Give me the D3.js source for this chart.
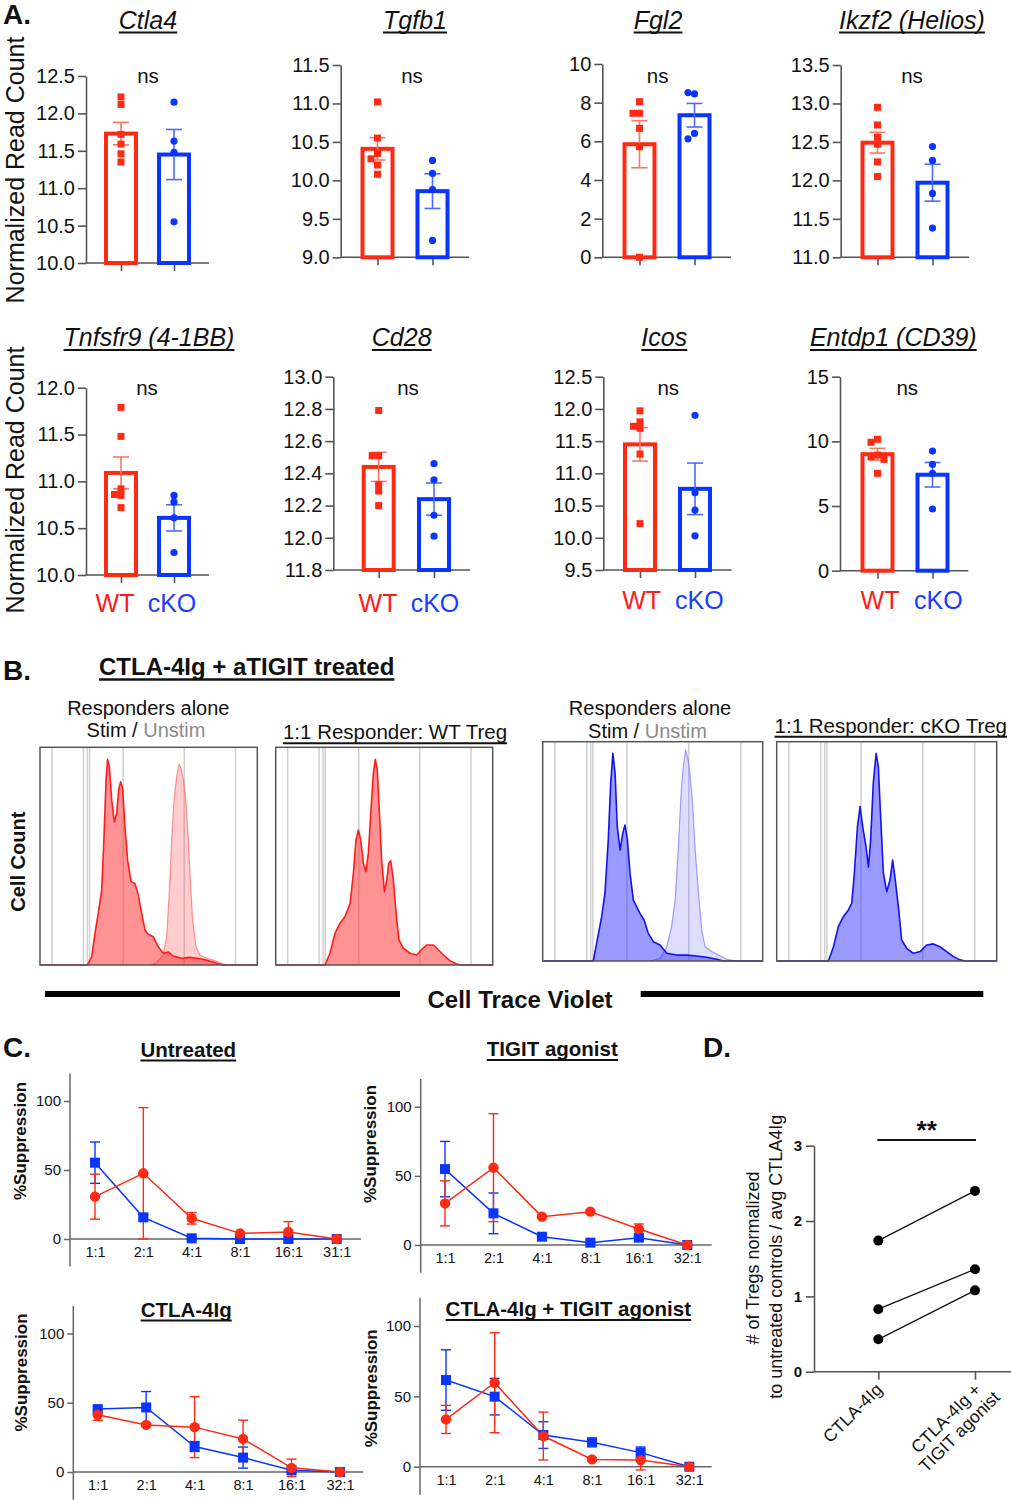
<!DOCTYPE html>
<html><head><meta charset="utf-8">
<script src="https://cdn.jsdelivr.net/npm/d3@7"></script>
<style>
body{margin:0;background:#fff}
svg{display:block}
text{font-family:"Liberation Sans",Arial,Helvetica,sans-serif}
</style></head>
<body><svg id="fig" width="1011" height="1500"></svg>
<script>
// ================= DATA =================
// Panel A
const genes = ["Ctla4","Tgfb1","Fgl2","Ikzf2 (Helios)","Tnfsfr9 (4-1BB)","Cd28","Icos","Entdp1 (CD39)"];
const groups = ["WT","cKO"];
const wtMean = [11.73, 10.41, 5.85, 12.49, 11.09, 12.44, 11.45, 9.01];
const wtSem  = [0.15, 0.145, 1.22, 0.135, 0.17, 0.09, 0.26, 0.45];
const koMean = [11.45, 9.86, 7.35, 11.97, 10.61, 12.24, 10.76, 7.42];
const koSem  = [0.335, 0.225, 0.61, 0.24, 0.14, 0.10, 0.40, 0.95];
const wtPoints = [
  [12.22,12.12,11.72,11.59,11.46,11.35],
  [11.02,10.55,10.35,10.28,10.20,10.08],
  [8.05,7.45,7.45,6.67,5.72,0.0],
  [12.95,12.72,12.56,12.47,12.24,12.05],
  [11.79,11.48,10.92,10.86,10.85,10.72],
  [12.79,12.51,12.51,12.33,12.29,12.20],
  [11.97,11.80,11.73,11.70,11.30,10.22],
  [10.16,9.93,8.94,8.81,8.61,7.53]];
const koPoints = [
  [12.15,11.63,11.48,10.55],
  [10.26,10.09,9.88,9.22],
  [8.45,8.52,6.41,6.13],
  [12.44,12.26,11.83,11.38],
  [10.85,10.78,10.61,10.24],
  [12.46,12.36,12.14,12.01],
  [11.90,10.70,10.43,10.03],
  [9.25,8.22,7.53,4.77]];
const aYDomain = [[10,12.5],[9,11.5],[0,10],[11,13.5],[10,12],[11.8,13],[9.5,12.5],[0,15]];
const aYStep = [0.5,0.5,2,0.5,0.5,0.2,0.5,5];
const aYDecimals = [1,1,0,1,1,1,1,0];
const aSig = ["ns","ns","ns","ns","ns","ns","ns","ns"];

// Panel B histograms: [CTV position (0-100 of axis), cell count (% of max scale)]
const histGridX = [5.5, 20.0, 21.8, 22.8, 38.3, 66.4, 90.0];
const wtStim = [[0,0],[21.8,0],[23.8,3.8],[25.3,14.5],[26.8,23.7],[28.4,34.5],[29.4,57.4],[30.4,85],[31.1,94.5],[31.9,91.1],[33.0,75.8],[34.2,65.8],[35.3,69.7],[36.2,80.4],[37.1,84.2],[38.0,81.2],[39.1,63.6],[40.3,48.2],[41.9,38.3],[43.7,37.5],[45.2,32.2],[46.8,23.7],[48.3,16.1],[49.8,14.2],[52.1,13.0],[54.4,8.4],[56.7,5.4],[59.0,6.0],[61.3,4.1],[65.2,3.1],[69.0,3.5],[73.6,2.9],[77.5,2.0],[81.3,0.8],[84.4,0],[100,0]];
const wtUnstim = [[50.6,0],[53.7,1.1],[56.7,4.6],[58.3,13.0],[59.5,32.9],[60.6,57.4],[61.7,75.8],[62.9,86.5],[64.0,92.3],[64.9,90.4],[66.0,85.0],[67.0,77.3],[67.9,63.6],[69.0,42.1],[70.2,20.7],[71.8,8.4],[73.6,4.6],[76.7,3.1],[80.5,2.0],[83.6,0.8],[85.9,0]];
const wtTreg = [[0,0],[22.7,0],[25.0,5.4],[27.3,14.5],[29.6,19.1],[31.9,22.2],[34.3,28.3],[35.8,42.1],[37.0,57.4],[38.1,62.0],[39.2,57.4],[40.4,46.7],[41.5,42.9],[42.7,51.3],[43.8,69.7],[45.0,88.1],[45.9,94.5],[46.8,89.6],[47.8,69.7],[48.8,48.2],[50.1,33.7],[51.2,39.1],[52.1,46.7],[53.0,47.9],[54.2,39.1],[55.5,23.7],[56.8,11.5],[58.8,7.7],[61.9,5.4],[65.0,4.6],[67.3,7.2],[69.6,9.2],[72.7,9.2],[75.0,6.9],[77.3,4.6],[80.3,2.0],[83.4,0.5],[85.7,0],[100,0]];
const koStim = [[0,0],[23.0,0],[24.8,9.6],[26.8,20.2],[28.3,30.9],[29.8,55.2],[30.9,81.0],[31.9,94.7],[32.9,85.6],[33.9,61.2],[35.2,50.6],[36.4,58.2],[37.4,62.0],[38.5,55.2],[39.7,40.0],[41.2,27.8],[42.7,24.8],[44.2,21.7],[46.1,18.7],[48.0,12.6],[50.3,8.8],[53.3,7.3],[56.4,3.5],[60.9,2.7],[65.5,2.7],[70.0,2.3],[74.5,1.7],[79.1,0.8],[82.1,0],[100,0]];
const koUnstim = [[48.8,0],[53.3,1.2],[56.4,6.5],[58.6,15.7],[60.2,27.8],[61.7,52.1],[62.9,76.4],[63.9,88.6],[65.0,96.2],[66.1,91.6],[66.9,85.6],[68.0,73.6],[69.2,52.1],[70.8,30.9],[72.3,14.1],[73.8,6.5],[76.8,4.3],[79.8,2.7],[83.6,0.8],[88.2,0]];
const koTreg = [[0,0],[23.5,0],[25.8,6.5],[28.0,15.7],[30.3,20.2],[32.6,23.3],[34.1,26.3],[35.3,40.0],[36.7,61.2],[37.9,70.4],[39.1,61.2],[40.6,52.1],[41.7,42.9],[42.7,55.2],[43.9,81.0],[45.2,94.7],[46.2,88.6],[47.3,64.4],[48.5,40.0],[50.0,31.6],[51.5,36.9],[52.7,46.0],[53.9,36.9],[55.3,24.8],[56.8,9.6],[59.1,5.8],[62.1,3.5],[65.2,4.3],[68.2,7.3],[71.2,7.8],[74.2,6.5],[77.3,4.3],[80.3,2.0],[83.3,0.5],[85.6,0],[100,0]];

// Panel C
const cTitles = ["Untreated","TIGIT agonist","CTLA-4Ig","CTLA-4Ig + TIGIT agonist"];
const ratiosA = ["1:1","2:1","4:1","8:1","16:1","31:1"];
const ratiosB = ["1:1","2:1","4:1","8:1","16:1","32:1"];
const cWtMean = [
  [30.7, 47.6, 15.0, 4.1, 5.1, 0],
  [30.1, 55.9, 20.5, 24.1, 11.6, 0],
  [41.3, 34.0, 32.4, 23.9, 3.0, 0],
  [33.6, 59.7, 21.8, 5.2, 4.7, 0]];
const cWtErr = [
  [16.3, 47.6, 4.2, 1.0, 7.5, 0],
  [16.3, 39.0, 1.0, 1.0, 3.6, 0],
  [4.0, 1.0, 22.0, 13.5, 6.3, 0],
  [10.0, 35.5, 17.0, 1.0, 7.0, 0]];
const cKoMean = [
  [55.3, 15.7, 0.5, 0, 0, 0],
  [54.9, 22.9, 6.0, 1.7, 5.3, 0],
  [45.4, 46.6, 18.4, 10.4, 1.2, 0],
  [61.6, 49.8, 22.5, 17.3, 10.0, 0]];
const cKoErr = [
  [15.0, 2.0, 1.0, 0, 0, 0],
  [20.0, 14.7, 1.0, 0.5, 1.0, 0],
  [2.0, 11.5, 3.6, 7.6, 1.5, 0],
  [21.5, 13.0, 9.5, 3.0, 4.0, 0]];
const cYTicks = [0, 50, 100];

// Panel D
const dGroups = ["CTLA-4Ig", "CTLA-4Ig + TIGIT agonist"];
const dCtla = [1.74, 0.83, 0.43];
const dCtlaTigit = [2.40, 1.36, 1.08];
const dYTicks = [0, 1, 2, 3];

// ================= DRAWING =================
const RED = "#ff2a14", BLUE = "#0a35ff";
const RED_L = "#ff7462", BLUE_L = "#4d6bff";
const AX = "#555";
const svg = d3.select("#fig");

function T(p, x, y, s, o = {}) {
  const t = p.append("text").attr("x", x).attr("y", y).text(s)
    .attr("font-size", o.size || 16)
    .attr("text-anchor", o.anchor || "middle")
    .attr("fill", o.fill || "#111");
  if (o.bold) t.attr("font-weight", "bold");
  if (o.italic) t.attr("font-style", "italic");
  if (o.base) t.attr("dominant-baseline", o.base);
  if (o.rotate) t.attr("transform", `rotate(${o.rotate},${x},${y})`);
  return t;
}
function underline(p, t, y, w = 2) {
  const b = t.node().getBBox();
  p.append("line").attr("x1", b.x).attr("x2", b.x + b.width)
    .attr("y1", y).attr("y2", y).attr("stroke", "#111").attr("stroke-width", w);
}
function styleAxis(g, size) {
  g.attr("font-size", size).attr("font-family", '"Liberation Sans",Arial,sans-serif');
  g.selectAll("path.domain").attr("stroke", AX).attr("stroke-width", 1.6);
  g.selectAll(".tick line").attr("stroke", AX).attr("stroke-width", 1.6);
  g.selectAll(".tick text").attr("fill", "#111").attr("font-size", size);
}

// ---------- Panel A ----------
T(svg, 3, 24, "A.", {size: 28, bold: true, anchor: "start"});
T(svg, 15, 170, "Normalized Read Count", {size: 25, rotate: -90, base: "central"});
T(svg, 15, 480, "Normalized Read Count", {size: 25, rotate: -90, base: "central"});

const aLayout = [
  {ax:86, c1:121, c2:174, xr:209, top:76, bot:263, tx:148, nx:148},
  {ax:340.7, c1:377.5, c2:432.5, xr:469, top:65, bot:257.3, tx:415, nx:412},
  {ax:602.3, c1:639.5, c2:694.5, xr:731, top:64, bot:257.3, tx:658, nx:657.7},
  {ax:840.7, c1:877.5, c2:932.5, xr:969, top:65, bot:257.3, tx:912, nx:912},
  {ax:86, c1:121, c2:174, xr:209, top:387.7, bot:575, tx:149, nx:147},
  {ax:333.3, c1:378.7, c2:434, xr:470, top:376.7, bot:570, tx:401.7, nx:408},
  {ax:603.3, c1:640, c2:695, xr:731.7, top:376.7, bot:570, tx:664.3, nx:668.3},
  {ax:840, c1:877.5, c2:932.5, xr:968.3, top:376.7, bot:570.7, tx:893.3, nx:907.3}];
const aGroupLabelX = [[115,172],[378,435],[641.7,699.3],[880,938.3]];
const aGroupLabelY = [612, 612, 608.5, 608.5];

function jitter(vals, y) {
  const placed = [];
  return vals.map(v => {
    const py = y(v);
    const cands = [0, -6.5, 6.5, -13, 13];
    let off = 0;
    for (const c of cands) {
      if (!placed.some(p => Math.abs(p[0] - c) < 6 && Math.abs(p[1] - py) < 6)) { off = c; break; }
    }
    placed.push([off, py]);
    return [off, py];
  });
}

genes.forEach((gene, i) => {
  const L = aLayout[i];
  const g = svg.append("g");
  const row2 = i >= 4;
  const y = d3.scaleLinear().domain(aYDomain[i]).range([L.bot, L.top]);
  const x = d3.scalePoint().domain(groups).range([L.c1, L.c2]);
  const ticks = d3.range(aYDomain[i][0], aYDomain[i][1] + aYStep[i] / 2, aYStep[i]);
  const ya = g.append("g").attr("transform", `translate(${L.ax},0)`)
    .call(d3.axisLeft(y).tickValues(ticks).tickFormat(d3.format("." + aYDecimals[i] + "f"))
      .tickSize(8).tickSizeOuter(0).tickPadding(3));
  styleAxis(ya, 20);
  g.append("line").attr("x1", L.ax).attr("x2", L.xr).attr("y1", L.bot).attr("y2", L.bot)
    .attr("stroke", AX).attr("stroke-width", 1.6);
  const xa = g.append("g").attr("transform", `translate(0,${L.bot})`)
    .call(d3.axisBottom(x).tickSize(8).tickFormat(""));
  xa.select("path.domain").remove();
  styleAxis(xa, 12);

  const means = [wtMean[i], koMean[i]], sems = [wtSem[i], koSem[i]];
  const cols = [RED, BLUE], colsL = [RED_L, BLUE_L];
  groups.forEach((gr, k) => {
    const cx = x(gr);
    g.append("rect").attr("x", cx - 15).attr("y", y(means[k]))
      .attr("width", 30).attr("height", y(aYDomain[i][0]) - y(means[k]))
      .attr("fill", "none").attr("stroke", cols[k]).attr("stroke-width", 4);
    const e1 = y(means[k] + sems[k]), e0 = y(means[k] - sems[k]);
    g.append("line").attr("x1", cx).attr("x2", cx).attr("y1", e1).attr("y2", e0)
      .attr("stroke", colsL[k]).attr("stroke-width", 1.6);
    [e1, e0].forEach(ey => g.append("line").attr("x1", cx - 8).attr("x2", cx + 8)
      .attr("y1", ey).attr("y2", ey).attr("stroke", colsL[k]).attr("stroke-width", 1.6));
  });
  jitter(wtPoints[i], y).forEach(([off, py]) => {
    g.append("rect").attr("x", x("WT") + off - 3.5).attr("y", py - 3.5)
      .attr("width", 7).attr("height", 7).attr("fill", RED);
  });
  jitter(koPoints[i], y).forEach(([off, py]) => {
    g.append("circle").attr("cx", x("cKO") + off).attr("cy", py).attr("r", 3.6).attr("fill", BLUE);
  });

  const tt = T(g, L.tx, row2 ? 346 : 28.5, gene, {size: 25, italic: true});
  underline(g, tt, row2 ? 350 : 32.5, 2);
  T(g, L.nx, row2 ? 395 : 83, aSig[i], {size: 20.5});
  if (row2) {
    const j = i - 4;
    T(g, aGroupLabelX[j][0], aGroupLabelY[j], groups[0], {size: 25, fill: "#ff1a1a"});
    T(g, aGroupLabelX[j][1], aGroupLabelY[j], groups[1], {size: 25, fill: "#1a3cff"});
  }
});

// ---------- Panel B ----------
T(svg, 3, 680, "B.", {size: 28, bold: true, anchor: "start"});
const bt = T(svg, 246.7, 675, "CTLA-4Ig + aTIGIT treated", {size: 24, bold: true});
underline(svg, bt, 679.5, 2.5);

const histBoxes = [
  {x:40, y:747.3, w:217.3, h:217.7},
  {x:275.7, y:747.3, w:217, h:217.7},
  {x:542.7, y:741.7, w:220, h:219.3},
  {x:776.7, y:741.7, w:220, h:219.3}];
const styles = {
  stimR:   {fill:"rgba(255,40,40,0.5)",  stroke:"#ff1c1c", w:1.6},
  unstimR: {fill:"rgba(255,90,90,0.3)",  stroke:"rgba(255,110,110,0.75)", w:1.2},
  stimB:   {fill:"rgba(40,40,255,0.47)", stroke:"#1212ee", w:1.6},
  unstimB: {fill:"rgba(100,100,255,0.22)", stroke:"rgba(125,125,255,0.75)", w:1.2}};
const histSets = [
  [[wtUnstim, styles.unstimR], [wtStim, styles.stimR]],
  [[wtTreg, styles.stimR]],
  [[koUnstim, styles.unstimB], [koStim, styles.stimB]],
  [[koTreg, styles.stimB]]];

histBoxes.forEach((B, i) => {
  const g = svg.append("g");
  const x = d3.scaleLinear().domain([0, 100]).range([B.x, B.x + B.w]);
  const y = d3.scaleLinear().domain([0, 100]).range([B.y + B.h, B.y]);
  g.append("rect").attr("x", B.x).attr("y", B.y).attr("width", B.w).attr("height", B.h).attr("fill", "#fff");
  histGridX.forEach(v => g.append("line").attr("x1", x(v)).attr("x2", x(v))
    .attr("y1", B.y).attr("y2", B.y + B.h).attr("stroke", "#cfcfcf").attr("stroke-width", 1.5));
  histSets[i].forEach(([data, st]) => {
    const area = d3.area().x(d => x(d[0])).y0(y(0)).y1(d => y(d[1]));
    const line = d3.line().x(d => x(d[0])).y(d => y(d[1]));
    g.append("path").attr("d", area(data)).attr("fill", st.fill);
    g.append("path").attr("d", line(data)).attr("fill", "none").attr("stroke", st.stroke)
      .attr("stroke-width", st.w).attr("stroke-linejoin", "round");
  });
  g.append("rect").attr("x", B.x).attr("y", B.y).attr("width", B.w).attr("height", B.h)
    .attr("fill", "none").attr("stroke", "#555").attr("stroke-width", 1.5);
});

T(svg, 148.3, 715, "Responders alone", {size: 20});
const s1 = T(svg, 146, 737.3, "", {size: 20});
s1.append("tspan").text("Stim / ");
s1.append("tspan").attr("fill", "#8a8a8a").text("Unstim");
const r1 = T(svg, 395, 739.3, "1:1 Responder: WT Treg", {size: 20.5});
underline(svg, r1, 743.3, 2);
T(svg, 650, 715, "Responders alone", {size: 20});
const s2 = T(svg, 647.5, 737.7, "", {size: 20});
s2.append("tspan").text("Stim / ");
s2.append("tspan").attr("fill", "#8a8a8a").text("Unstim");
const r2 = T(svg, 890.8, 732.7, "1:1 Responder: cKO Treg", {size: 20.5});
underline(svg, r2, 736.7, 2);

T(svg, 18, 861.7, "Cell Count", {size: 20, bold: true, rotate: -90, base: "central"});
svg.append("line").attr("x1", 45).attr("x2", 400).attr("y1", 994).attr("y2", 994).attr("stroke", "#000").attr("stroke-width", 6);
svg.append("line").attr("x1", 640.7).attr("x2", 983.3).attr("y1", 994).attr("y2", 994).attr("stroke", "#000").attr("stroke-width", 6);
T(svg, 520, 1008.3, "Cell Trace Violet", {size: 24, bold: true});

// ---------- Panel C ----------
T(svg, 3, 1056.7, "C.", {size: 28, bold: true, anchor: "start"});
const cLayout = [
  {ax:70, x1:95, x2:336.7, xr:361, y0:1239, y100:1101, tx:188.3, tb:1056.5, ul:1060.5, lx:20.5, ly:1141, r:ratiosA},
  {ax:420.7, x1:445, x2:687.3, xr:711.7, y0:1245, y100:1106.7, tx:552.3, tb:1056, ul:1060, lx:370.5, ly:1144, r:ratiosB},
  {ax:73.3, x1:97.7, x2:340, xr:363.3, y0:1472, y100:1333.5, tx:186.2, tb:1316.5, ul:1320.5, lx:21.7, ly:1372.5, r:ratiosB},
  {ax:420, x1:446, x2:689.3, xr:711.7, y0:1466.7, y100:1326, tx:568.3, tb:1316, ul:1320, lx:371.7, ly:1388.3, r:ratiosB}];

cTitles.forEach((title, i) => {
  const L = cLayout[i];
  const g = svg.append("g");
  const y = d3.scaleLinear().domain([0, 100]).range([L.y0, L.y100]);
  const x = d3.scalePoint().domain(L.r).range([L.x1, L.x2]);
  g.append("line").attr("x1", L.ax).attr("x2", L.ax).attr("y1", y(120)).attr("y2", y(-20))
    .attr("stroke", "#666").attr("stroke-width", 1.5);
  const ya = g.append("g").attr("transform", `translate(${L.ax},0)`)
    .call(d3.axisLeft(y).tickValues(cYTicks).tickSize(6).tickPadding(3));
  ya.select("path.domain").remove();
  styleAxis(ya, 15);
  ya.selectAll(".tick line").attr("stroke", "#666").attr("stroke-width", 1.5);
  g.append("line").attr("x1", L.ax).attr("x2", L.xr).attr("y1", y(0)).attr("y2", y(0))
    .attr("stroke", "#666").attr("stroke-width", 1.5);
  const xa = g.append("g").attr("transform", `translate(0,${y(0)})`)
    .call(d3.axisBottom(x).tickSize(0).tickPadding(8));
  xa.select("path.domain").remove();
  styleAxis(xa, 14.5);

  const series = [
    {m: cKoMean[i], e: cKoErr[i], c: BLUE, shape: "sq"},
    {m: cWtMean[i], e: cWtErr[i], c: RED, shape: "ci"}];
  series.forEach(s => {
    s.m.forEach((v, k) => {
      if (s.e[k] <= 0) return;
      const cx = x(L.r[k]), a = y(v + s.e[k]), b = y(v - s.e[k]);
      g.append("line").attr("x1", cx).attr("x2", cx).attr("y1", a).attr("y2", b).attr("stroke", s.c).attr("stroke-width", 1.4);
      [a, b].forEach(ey => g.append("line").attr("x1", cx - 5).attr("x2", cx + 5).attr("y1", ey).attr("y2", ey)
        .attr("stroke", s.c).attr("stroke-width", 1.4));
    });
  });
  series.forEach(s => {
    const ln = d3.line().x((d, k) => x(L.r[k])).y(d => y(d));
    g.append("path").attr("d", ln(s.m)).attr("fill", "none").attr("stroke", s.c).attr("stroke-width", 1.5);
  });
  series.forEach(s => {
    s.m.forEach((v, k) => {
      const cx = x(L.r[k]), cy = y(v);
      if (s.shape === "sq") g.append("rect").attr("x", cx - 5).attr("y", cy - 5).attr("width", 10).attr("height", 10).attr("fill", s.c);
      else g.append("circle").attr("cx", cx).attr("cy", cy).attr("r", 5.2).attr("fill", s.c);
    });
  });
  const tt = T(g, L.tx, L.tb, title, {size: 20.5, bold: true});
  underline(g, tt, L.ul, 2.2);
  T(g, L.lx, L.ly, "%Suppression", {size: 17, bold: true, rotate: -90, base: "central"});
});

// ---------- Panel D ----------
T(svg, 703, 1056.7, "D.", {size: 28, bold: true, anchor: "start"});
{
  const g = svg.append("g");
  const ax = 814, xr = 1011;
  const y = d3.scaleLinear().domain([0, 3]).range([1371.7, 1145.7]);
  const x = d3.scalePoint().domain(dGroups).range([878.3, 975]);
  const ya = g.append("g").attr("transform", `translate(${ax},0)`)
    .call(d3.axisLeft(y).tickValues(dYTicks).tickFormat(d3.format("d")).tickSize(8).tickSizeOuter(0).tickPadding(4));
  styleAxis(ya, 15);
  ya.selectAll(".tick text").attr("font-weight", "bold");
  g.append("line").attr("x1", ax).attr("x2", xr).attr("y1", y(0)).attr("y2", y(0)).attr("stroke", AX).attr("stroke-width", 1.6);
  const xa = g.append("g").attr("transform", `translate(0,${y(0)})`)
    .call(d3.axisBottom(x).tickSize(8).tickFormat(""));
  xa.select("path.domain").remove();
  styleAxis(xa, 12);
  // rotated tick labels
  const l1 = g.append("g").attr("transform", `translate(${x(dGroups[0]) + 5},${y(0) + 19}) rotate(-45)`);
  T(l1, 0, 0, "CTLA-4Ig", {size: 17.5, anchor: "end"});
  const l2 = g.append("g").attr("transform", `translate(${x(dGroups[1]) + 7},${y(0) + 19}) rotate(-45)`);
  const t1 = T(l2, 0, 0, "CTLA-4Ig +", {size: 17.5, anchor: "end"});
  const w1 = t1.node().getComputedTextLength();
  T(l2, -w1 / 2, 19, "TIGIT agonist", {size: 17.5, anchor: "middle"});

  // y label
  T(g, 753.3, 1258, "# of Tregs normalized", {size: 18, rotate: -90, base: "central"});
  T(g, 776.5, 1256.7, "to untreated controls / avg CTLA4Ig", {size: 18, rotate: -90, base: "central"});

  // paired lines
  dCtla.forEach((v, k) => {
    g.append("line").attr("x1", x(dGroups[0])).attr("x2", x(dGroups[1]))
      .attr("y1", y(v)).attr("y2", y(dCtlaTigit[k])).attr("stroke", "#111").attr("stroke-width", 1.3);
  });
  dCtla.forEach(v => g.append("circle").attr("cx", x(dGroups[0])).attr("cy", y(v)).attr("r", 5).attr("fill", "#000"));
  dCtlaTigit.forEach(v => g.append("circle").attr("cx", x(dGroups[1])).attr("cy", y(v)).attr("r", 5).attr("fill", "#000"));
  // significance
  g.append("line").attr("x1", 877.3).attr("x2", 976).attr("y1", 1140).attr("y2", 1140).attr("stroke", "#111").attr("stroke-width", 2);
  T(g, 926.7, 1139, "**", {size: 26, bold: true});
}
</script></body></html>
